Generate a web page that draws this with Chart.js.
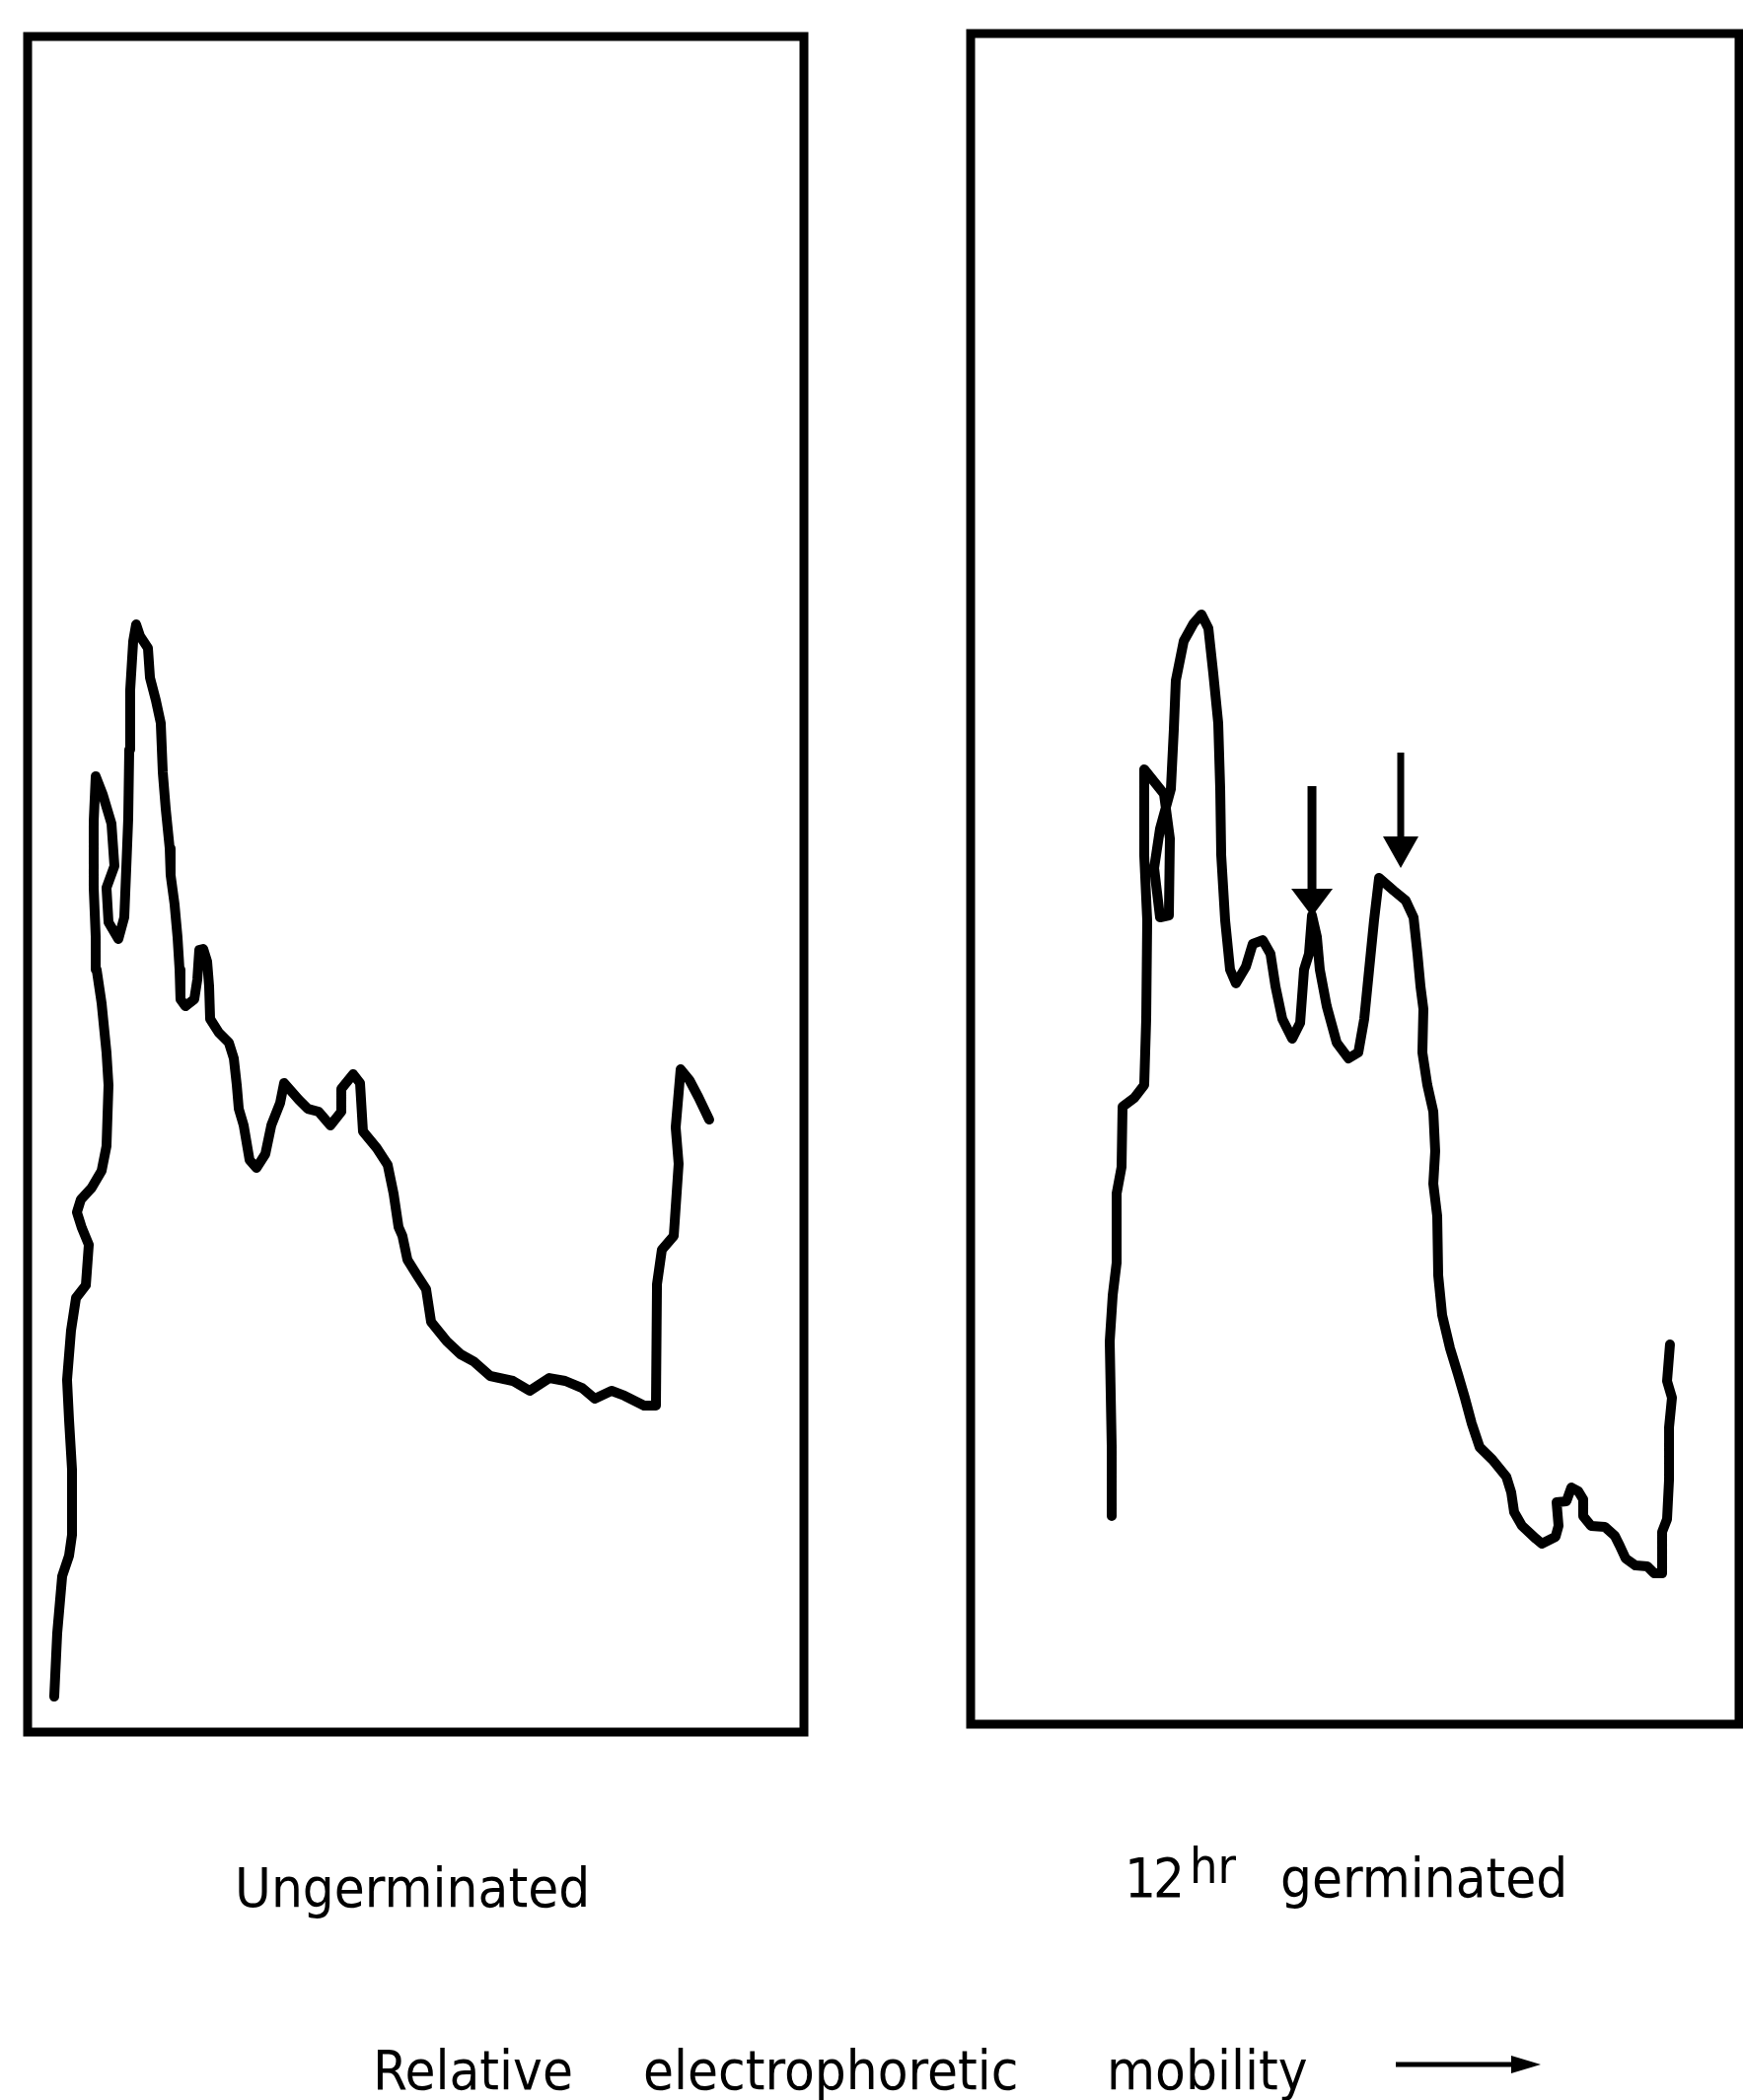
<!DOCTYPE html>
<html>
<head>
<meta charset="utf-8">
<script src="https://cdn.jsdelivr.net/npm/chart.js@4"></script>
<style>
  html, body { margin: 0; padding: 0; background: #fff; }
  body { width: 1767px; height: 2129px; position: relative; overflow: hidden; }
  canvas { position: absolute; }
  .lbl {
    position: absolute;
    font-family: "DejaVu Sans Condensed", "Liberation Sans Narrow", "DejaVu Sans", sans-serif;
    font-stretch: condensed;
    font-size: 56px;
    line-height: 56px;
    color: #000;
    white-space: nowrap;
  }
</style>
</head>
<body>
<canvas id="ungerminatedGraph" width="811" height="1743" style="left:16px; top:25px;"></canvas>
<canvas id="germinatedGraph" width="803" height="1738" style="left:972px; top:22px;"></canvas>

<div class="lbl" style="left:238px; top:1886px;">Ungerminated</div>
<div class="lbl" style="left:1140px; top:1876px; letter-spacing:-3px;">12</div>
<div class="lbl" style="left:1206px; top:1864px; font-size:50px;">hr</div>
<div class="lbl" style="left:1298px; top:1876px;">germinated</div>

<div class="lbl" style="left:378px; top:2071px;">Relative</div>
<div class="lbl" style="left:652px; top:2071px;">electrophoretic</div>
<div class="lbl" style="left:1122px; top:2071px;">mobility</div>
<svg style="position:absolute; left:1410px; top:2078px;" width="160" height="30">
  <line x1="5" y1="15" x2="130" y2="15" stroke="#000" stroke-width="5"/>
  <polygon points="122,6 152,15 122,24" fill="#000"/>
</svg>

<script>
/* Densitometer traces.
   x = relative electrophoretic mobility (0-100 across the panel),
   y = absorbance (0-100, arbitrary units) */

const ungerminated = [
  [3.43, 2.09], [3.81, 5.82], [4.45, 9.19], [5.34, 10.41], [5.72, 11.63],
  [5.72, 15.47], [5.34, 18.38], [5.08, 20.77], [5.59, 23.68], [6.23, 25.60],
  [7.50, 26.35], [7.88, 28.74], [6.99, 29.73], [6.35, 30.66], [6.86, 31.41],
  [8.26, 32.11], [9.53, 33.10], [10.16, 34.55], [10.42, 38.16], [10.16, 40.08],
  [9.53, 42.99], [8.89, 44.97], [8.77, 46.89], [8.51, 49.80], [8.51, 53.69],
  [8.77, 56.37], [9.66, 55.32], [10.80, 53.58], [11.18, 51.08], [10.16, 49.80],
  [10.42, 47.76], [11.69, 46.77], [12.45, 48.05], [12.71, 50.96], [12.96, 53.87],
  [13.09, 57.94], [13.21, 61.43], [13.60, 64.34], [13.98, 65.33], [14.49, 64.63],
  [15.50, 63.93], [15.76, 62.19], [16.52, 60.85], [17.15, 59.51], [17.41, 56.60],
  [17.79, 54.45], [18.30, 52.12], [18.42, 50.55], [18.93, 48.81], [19.31, 46.89],
  [19.57, 44.97], [19.69, 43.22], [20.33, 42.81], [21.47, 43.22], [21.86, 44.39],
  [22.11, 46.13], [22.62, 46.19], [23.13, 45.43], [23.38, 43.98], [23.51, 42.06],
  [24.65, 41.24], [25.92, 40.66], [26.56, 39.73], [26.94, 38.16], [27.20, 36.76],
  [27.83, 35.78], [28.59, 33.74], [29.48, 33.27], [30.62, 34.09], [31.39, 35.78],
  [32.53, 37.11], [33.04, 38.28], [34.94, 37.29], [36.09, 36.76], [37.48, 36.59],
  [39.01, 35.78], [40.41, 36.59], [40.41, 37.93], [41.93, 38.80], [42.82, 38.28],
  [43.20, 35.43], [44.98, 34.44], [46.38, 33.45], [47.14, 31.76], [47.78, 29.78],
  [48.28, 29.26], [48.92, 27.86], [50.19, 26.93], [51.33, 26.12], [51.97, 24.20],
  [54.00, 23.04], [55.78, 22.28], [57.43, 21.87], [59.59, 21.00], [62.52, 20.71],
  [64.68, 20.13], [67.22, 20.88], [69.25, 20.71], [71.41, 20.30], [73.06, 19.66],
  [75.22, 20.13], [76.87, 19.84], [79.41, 19.26], [80.94, 19.26], [81.07, 26.41],
  [81.70, 28.45], [83.23, 29.26], [83.86, 33.51], [83.48, 35.66], [84.12, 39.09],
  [85.26, 38.45], [86.40, 37.46], [87.80, 36.12]
];

const germinated12hr = [
  [18.36, 12.31], [18.36, 16.39], [18.10, 22.64], [18.49, 25.38], [19.00, 27.30],
  [19.00, 31.39], [19.64, 32.96], [19.77, 36.52], [21.31, 37.05], [22.59, 37.81],
  [22.85, 41.71], [22.98, 47.55], [22.59, 51.40], [22.59, 56.48], [25.16, 55.02],
  [25.93, 52.39], [25.80, 47.84], [24.65, 47.72], [23.88, 50.64], [24.65, 52.97],
  [26.06, 55.31], [26.44, 58.81], [26.70, 61.73], [27.73, 64.06], [29.01, 65.11],
  [30.04, 65.64], [30.94, 64.82], [31.58, 62.14], [32.22, 59.22], [32.48, 55.31],
  [32.61, 51.40], [33.12, 47.55], [33.76, 44.63], [34.53, 43.82], [35.82, 44.81],
  [36.71, 46.15], [38.00, 46.38], [39.02, 45.57], [39.67, 43.64], [40.56, 41.71],
  [41.85, 40.55], [42.88, 41.48], [43.39, 44.63], [44.03, 45.57], [44.42, 47.84],
  [45.06, 46.56], [45.44, 44.63], [46.34, 42.47], [47.63, 40.32], [49.17, 39.38],
  [50.45, 39.73], [51.22, 41.71], [51.86, 44.63], [52.50, 47.55], [53.15, 50.06],
  [55.07, 49.30], [56.61, 48.72], [57.64, 47.72], [58.15, 45.57], [58.54, 43.64],
  [58.92, 42.30], [58.79, 39.73], [59.43, 37.81], [60.21, 36.24], [60.46, 33.90],
  [60.21, 31.97], [60.72, 30.05], [60.85, 26.55], [61.36, 24.21], [62.39, 22.23],
  [63.41, 20.71], [64.31, 19.31], [65.21, 17.79], [66.24, 16.39], [67.91, 15.64],
  [69.71, 14.64], [70.35, 13.71], [70.73, 12.54], [71.76, 11.73], [73.56, 10.97],
  [74.33, 10.68], [76.12, 11.09], [76.51, 11.73], [76.25, 13.13], [77.54, 13.19],
  [78.18, 14.00], [79.08, 13.77], [79.72, 13.30], [79.72, 12.31], [80.74, 11.73],
  [82.54, 11.67], [83.83, 11.14], [84.47, 10.56], [85.24, 9.80], [86.52, 9.39],
  [88.06, 9.34], [88.96, 8.92], [89.99, 8.92], [89.99, 11.38], [90.63, 12.13],
  [90.89, 14.47], [90.89, 17.56], [91.27, 19.31], [90.63, 20.30], [91.01, 22.46]
];

// Arrows marking the new bands in the 12 hr trace
const arrowMobility = [44.42, 55.97];
const arrowTop = [55.48, 57.47];
const arrowTip = [47.78, 50.64];

// Frame around each panel
const panelBox = {
  id: 'panelBox',
  afterDraw(chart) {
    const { ctx, chartArea } = chart;
    ctx.save();
    ctx.lineWidth = 9;
    ctx.strokeStyle = '#000';
    ctx.strokeRect(chartArea.left, chartArea.top,
      chartArea.right - chartArea.left, chartArea.bottom - chartArea.top);
    ctx.restore();
  }
};

// Band arrows, placed through the chart scales
const bandArrows = {
  id: 'bandArrows',
  afterDatasetsDraw(chart, args, opts) {
    if (!opts.show) return;
    const { ctx, scales } = chart;
    const shaftWidths = [9, 7];
    const heads = [{ len: 28, half: 21 }, { len: 32, half: 18 }];
    ctx.save();
    ctx.strokeStyle = '#000';
    ctx.fillStyle = '#000';
    arrowMobility.forEach((m, i) => {
      const x = scales.x.getPixelForValue(m);
      const yTop = scales.y.getPixelForValue(arrowTop[i]);
      const yTip = scales.y.getPixelForValue(arrowTip[i]);
      const h = heads[i];
      ctx.lineWidth = shaftWidths[i];
      ctx.beginPath();
      ctx.moveTo(x, yTop);
      ctx.lineTo(x, yTip - h.len + 2);
      ctx.stroke();
      ctx.beginPath();
      ctx.moveTo(x - h.half, yTip - h.len);
      ctx.lineTo(x + h.half, yTip - h.len);
      ctx.lineTo(x, yTip);
      ctx.closePath();
      ctx.fill();
    });
    ctx.restore();
  }
};

function makePanel(canvasId, trace, showArrows) {
  const ctx = document.getElementById(canvasId).getContext('2d');
  return new Chart(ctx, {
    type: 'scatter',
    data: {
      datasets: [
        {
          data: trace.map(p => ({ x: p[0], y: p[1] })),
          showLine: true,
          borderColor: '#000',
          backgroundColor: '#000',
          borderWidth: 10,
          borderJoinStyle: 'round',
          borderCapStyle: 'round',
          pointRadius: 0,
          tension: 0
        }
      ]
    },
    options: {
      responsive: false,
      animation: false,
      layout: { padding: 12 },
      plugins: {
        legend: { display: false },
        tooltip: { enabled: false },
        bandArrows: { show: showArrows }
      },
      scales: {
        x: { type: 'linear', min: 0, max: 100, display: false },
        y: { type: 'linear', min: 0, max: 100, display: false }
      }
    },
    plugins: [panelBox, bandArrows]
  });
}

makePanel('ungerminatedGraph', ungerminated, false);
makePanel('germinatedGraph', germinated12hr, true);
</script>
</body>
</html>
